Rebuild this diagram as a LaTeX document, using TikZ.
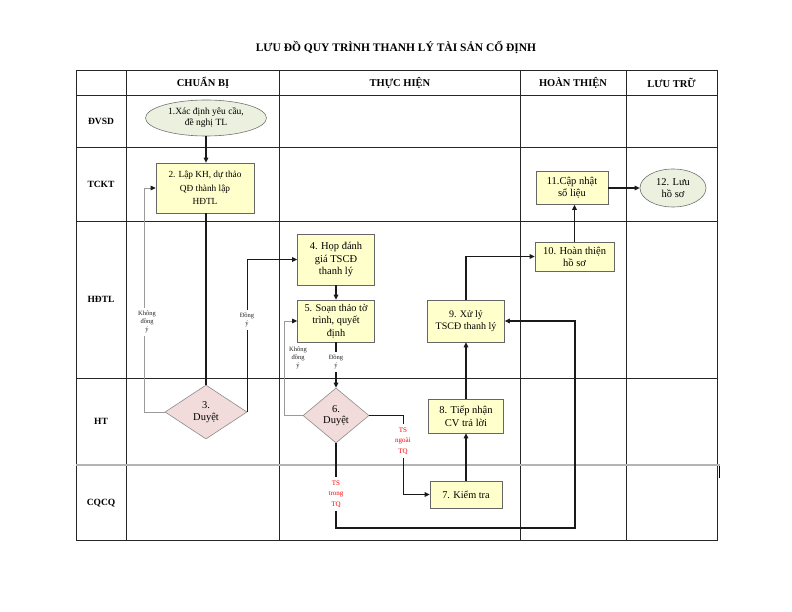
\documentclass[tikz,border=0pt]{standalone}
\usepackage{fontspec}
\setmainfont{Liberation Serif}
\usetikzlibrary{shapes.geometric,arrows.meta,calc}
\definecolor{boxfill}{HTML}{FFFFCC}
\definecolor{ovalfill}{HTML}{EBF1DE}
\definecolor{diafill}{HTML}{F2DCDB}
\definecolor{lineclr}{HTML}{1A1A1A}
\definecolor{grayline}{HTML}{9A9A9A}
\definecolor{sepgray}{HTML}{B4B4B4}
\begin{document}
\begin{tikzpicture}[x=1pt,y=-1pt,
  tbl/.style={draw=black!85, line width=0.8pt},
  box/.style={rectangle, draw=black!60, line width=0.6pt, fill=boxfill, align=center, inner sep=0pt},
  oval/.style={ellipse, draw=black!55, line width=0.6pt, fill=ovalfill, align=center, inner sep=0pt},
  dia/.style={diamond, draw=black!45, line width=0.6pt, fill=diafill, align=center, inner sep=0pt},
  flow/.style={draw=lineclr, line width=1.4pt, -{Triangle[length=5pt,width=4.5pt]}},
  plainline/.style={draw=lineclr, line width=1.4pt},
  grayflow/.style={draw=grayline, line width=0.9pt, -{Triangle[length=5pt,width=4.5pt,color=lineclr]}},
  lab/.style={align=center, font=\fontsize{6.5}{8}\selectfont, inner xsep=1pt, inner ysep=3pt, text=black!85},
  redlab/.style={align=center, text=red, font=\fontsize{7}{10.5}\selectfont, inner xsep=1pt, inner ysep=4pt},
  hdr/.style={font=\fontsize{10.5}{12}\bfseries\selectfont},
  rowlab/.style={font=\fontsize{9.5}{11}\bfseries\selectfont}
]
\useasboundingbox[fill=white] (0,0) rectangle (792,612);

\node[font=\fontsize{11.5}{13}\bfseries\selectfont] (title) at (396,48) {LƯU ĐỒ QUY TRÌNH THANH LÝ TÀI SẢN CỐ ĐỊNH};

% table grid
\draw[tbl] (76,70) rectangle (717,540);
\foreach \x in {126,279,520,626} \draw[tbl] (\x,70) -- (\x,540);
\foreach \y in {95,147,221,378} \draw[tbl] (76,\y) -- (717,\y);
\draw[draw=sepgray, line width=1.6pt] (76,465) -- (720,465);
\draw[draw=black, line width=1.6pt] (719.5,466) -- (719.5,478);

% headers
\node[hdr] (h1) at (203,82.5) {CHUẨN BỊ};
\node[hdr] (h2) at (400,82.5) {THỰC HIỆN};
\node[hdr] (h3) at (573,82.5) {HOÀN THIỆN};
\node[hdr] (h4) at (671.5,82.5) {LƯU TRỮ};

% row labels
\node[rowlab] (r1) at (101,121) {ĐVSD};
\node[rowlab] (r2) at (101,184) {TCKT};
\node[rowlab] (r3) at (101,299) {HĐTL};
\node[rowlab] (r4) at (101,421) {HT};
\node[rowlab] (r5) at (101,503) {CQCQ};

% nodes
\node[oval, minimum width=121pt, minimum height=36pt, font=\fontsize{9.5}{11}\selectfont] (n1) at (206,118) {1.Xác định yêu cầu,\\đề nghị TL};
\node[box, minimum width=98pt, minimum height=50pt, font=\fontsize{9.3}{13.5}\selectfont] (n2) at (205,188) {2. Lập KH, dự thảo\\QĐ thành lập\\HĐTL};
\node[dia, minimum width=82pt, minimum height=54pt, font=\fontsize{10.5}{12.5}\selectfont] (n3) at (206,412) {3.\\Duyệt};
\node[box, minimum width=77pt, minimum height=51pt, font=\fontsize{10.5}{12.5}\selectfont] (n4) at (336,259.5) {4. Họp đánh\\giá TSCĐ\\thanh lý};
\node[box, minimum width=77pt, minimum height=42pt, font=\fontsize{10.3}{12.5}\selectfont] (n5) at (336,321) {5. Soạn thảo tờ\\trình, quyết\\định};
\node[dia, minimum width=66pt, minimum height=55pt, font=\fontsize{10.5}{11.5}\selectfont] (n6) at (336,415.5) {6.\\Duyệt};
\node[box, minimum width=72pt, minimum height=27pt, font=\fontsize{10.3}{12}\selectfont] (n7) at (466,494.5) {7. Kiểm tra};
\node[box, minimum width=75pt, minimum height=34pt, font=\fontsize{10.5}{13}\selectfont] (n8) at (466,416) {8. Tiếp nhận\\CV trả lời};
\node[box, minimum width=77pt, minimum height=42pt, font=\fontsize{10}{11.7}\selectfont] (n9) at (466,321) {9. Xử lý\\TSCĐ thanh lý};
\node[box, minimum width=79pt, minimum height=29pt, font=\fontsize{10.5}{12}\selectfont] (n10) at (574.5,256.5) {10. Hoàn thiện\\hồ sơ};
\node[box, minimum width=72pt, minimum height=33pt, font=\fontsize{10.5}{11.7}\selectfont] (n11) at (572,188) {11.Cập nhật\\sổ liệu};
\node[oval, minimum width=66pt, minimum height=38pt, font=\fontsize{10.5}{12}\selectfont] (n12) at (673,188) {12. Lưu\\hồ sơ};

% connectors
\draw[flow] (n1.south) -- (n1.south |- n2.north);
\draw[plainline] (n2.south -| n3.north) -- (n3.north);
\draw[grayflow] (n3.west) -- ++(-20,0) |- (n2.west);
\node[lab, fill=white] (l1) at (147,322) {Không\\đồng\\ý};
\draw[flow] (n3.east) |- (n4.west);
\node[lab, fill=white] (l2) at (247,320) {Đồng\\ý};
\draw[flow] (n4) -- (n5);
\draw[flow] (n5) -- (n6);
\node[lab, fill=white] (l3) at (336,362) {Đồng\\ý};
\draw[grayflow] (n6.west) -- ++(-18,0) |- (n5.west);
\node[lab] (l4) at (298,358) {Không\\đồng\\ý};
\draw[flow] (n6.east) -- ++(34,0) |- (n7.west);
\node[redlab, fill=white] (l5) at (403,441) {TS\\ngoài\\TQ};
\coordinate (c1) at (575,528);
\draw[flow] (n6.south) |- (c1) |- (n9.east);
\node[redlab, fill=white] (l6) at (336,494) {TS\\trong\\TQ};
\draw[flow] (n7) -- (n8);
\draw[flow] (n8) -- (n9);
\draw[flow] (n9.north) |- (n10.west);
\draw[flow] (n10.north) -- (n10.north |- n11.south);
\draw[flow] (n11.east) -- (n12.west);
\end{tikzpicture}
\end{document}
